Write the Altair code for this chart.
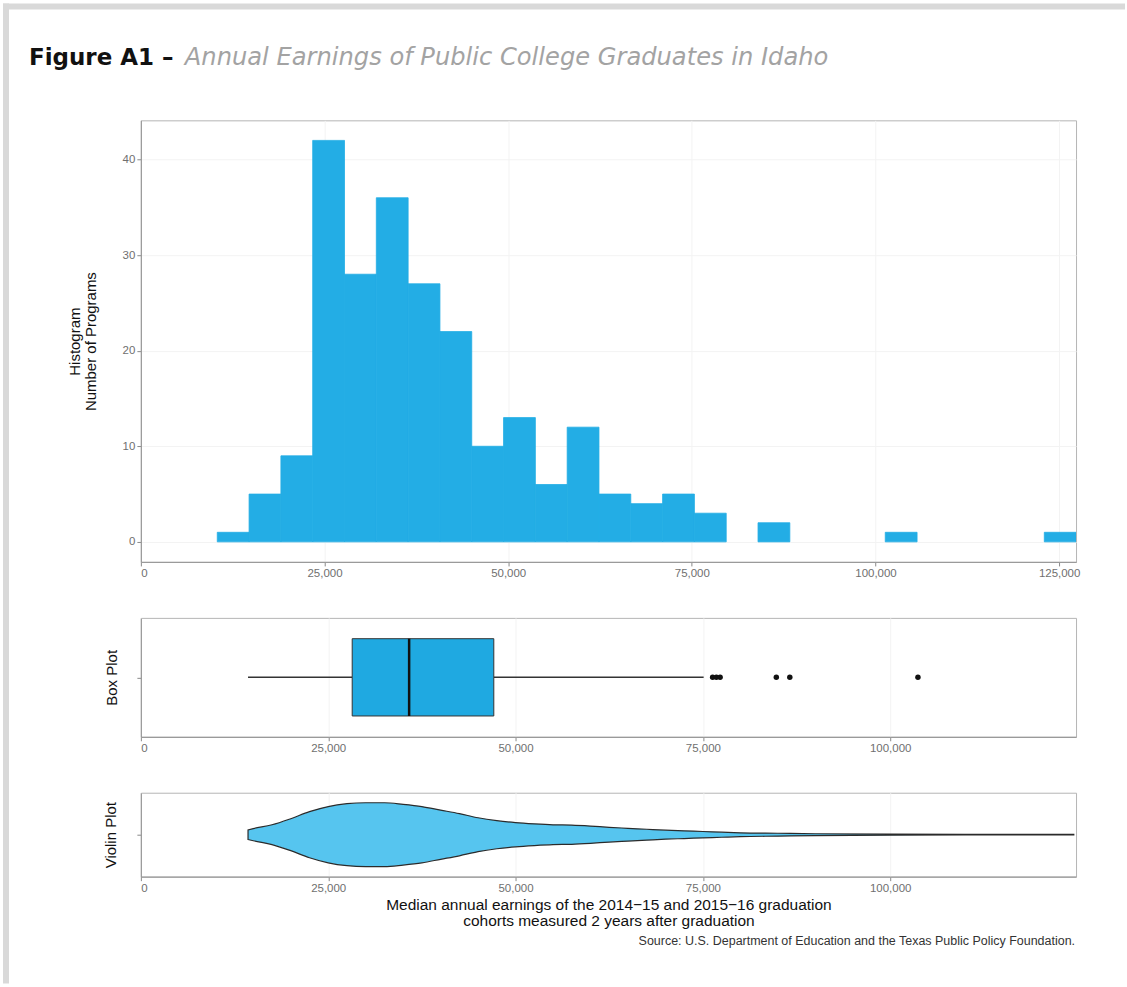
import altair as alt
import pandas as pd

# ---------------- data ----------------
# Histogram: left edge of each non-empty bin (dollars) and its count
BIN_WIDTH = 4330
bin_starts = [10400, 14730, 19060, 23390, 27720, 32050, 36380, 40710, 45040,
              49370, 53700, 58030, 62360, 66690, 71020, 75350, 84010, 101330, 122980]
bin_counts = [1, 5, 9, 42, 28, 36, 27, 22, 10,
              13, 6, 12, 5, 4, 5, 3, 2, 1, 1]

# Box plot summary
box_stat_names = ["whisker_low", "q1", "median", "q3", "whisker_high"]
box_stat_values = [14300, 28200, 35800, 47100, 75100]
outliers = [76300, 76800, 77300, 84800, 86600, 103700]

# Violin: earnings sample points and relative half-width (density, max = 1)
violin_x = [14300, 15000, 17500, 20000, 22500, 25000, 27500, 30000, 32500, 35000,
            37500, 40000, 42500, 45000, 47500, 50000, 52500, 55000, 57500, 60000,
            62500, 65000, 67500, 70000, 72500, 75000, 77500, 80000, 85000, 90000,
            100000, 110000, 124500]
violin_d = [0.15, 0.19, 0.31, 0.50, 0.72, 0.88, 0.97, 1.00, 1.00, 0.95,
            0.88, 0.77, 0.66, 0.53, 0.44, 0.38, 0.34, 0.31, 0.30, 0.27,
            0.23, 0.20, 0.17, 0.14, 0.12, 0.10, 0.08, 0.06, 0.045, 0.03,
            0.015, 0.01, 0.01]

hist_ticks = [0, 25000, 50000, 75000, 100000, 125000]
lower_ticks = [0, 25000, 50000, 75000, 100000]
hist_y_ticks = [0, 10, 20, 30, 40]

TITLE_BOLD = "Figure A1 \u2013"
TITLE_ITALIC = "Annual Earnings of Public College Graduates in Idaho"
X_TITLE = ["Median annual earnings of the 2014\u221215 and 2015\u221216 graduation",
           "cohorts measured 2 years after graduation"]
SOURCE = "Source: U.S. Department of Education and the Texas Public Policy Foundation."

# ---------------- styling ----------------
W = 936
FONT = "Liberation Sans"
HIST_BLUE = "#23ADE5"
BOX_BLUE = "#1FA9E1"
VIOLIN_BLUE = "#56C5EF"
BORDER = "#d9d9d9"

one = pd.DataFrame({"k": [0]})

# ---------------- header (title + page border) ----------------
hb = alt.Chart(one)
top_border = hb.mark_rule(color=BORDER, strokeWidth=6, strokeCap="square").encode(
    x=alt.value(-135), x2=alt.value(982), y=alt.value(3), y2=alt.value(3))
left_border = hb.mark_rule(color=BORDER, strokeWidth=6, strokeCap="square").encode(
    x=alt.value(-135), x2=alt.value(-135), y=alt.value(3), y2=alt.value(978))
t_bold = hb.mark_text(text=TITLE_BOLD, font="DejaVu Sans", fontWeight="bold", fontSize=23,
                      align="left", baseline="alphabetic", color="#111111").encode(
    x=alt.value(-112), y=alt.value(62))
t_ital = hb.mark_text(text=TITLE_ITALIC, font="DejaVu Sans", fontStyle="italic",
                      fontSize=24.2, align="left", baseline="alphabetic",
                      color="#a3a3a3").encode(
    x=alt.value(44), y=alt.value(62))
header = alt.layer(top_border, left_border, t_bold, t_ital).properties(
    width=W, height=61, view=alt.ViewBackground(stroke="transparent"))

# ---------------- histogram ----------------
hist_df = pd.DataFrame({"start": bin_starts, "count": bin_counts})
hist_df["end"] = hist_df["start"] + BIN_WIDTH

hist = alt.Chart(hist_df).mark_rect(color=HIST_BLUE, stroke=HIST_BLUE, strokeWidth=0.8,
                                    clip=True).encode(
    x=alt.X("start:Q", scale=alt.Scale(domain=[0, 127300], nice=False, zero=False),
            axis=alt.Axis(values=hist_ticks, format=",d", title=None)),
    x2="end:Q",
    y=alt.Y("count:Q", scale=alt.Scale(domain=[-2.1, 44.1], nice=False),
            axis=alt.Axis(values=hist_y_ticks, title=["Histogram", "Number of Programs"],
                          titlePadding=24, titleLineHeight=16)),
    y2=alt.datum(0),
).properties(width=W, height=442)

# ---------------- box plot ----------------
stats = dict(zip(box_stat_names, box_stat_values))
box_df = pd.DataFrame([stats])
out_df = pd.DataFrame({"value": outliers})
xs_lower = alt.Scale(domain=[0, 124800], nice=False, zero=False)
ys_box = alt.Scale(domain=[-1, 1], nice=False)
lower_axis = alt.Axis(values=lower_ticks, format=",d", title=None)

bb = alt.Chart(box_df)
whisk_lo = bb.mark_rule(color="#333333", strokeWidth=1.5).encode(
    x=alt.X("whisker_low:Q", scale=xs_lower, axis=lower_axis), x2="q1:Q",
    y=alt.YDatum(0, type="quantitative", scale=ys_box,
                 axis=alt.Axis(values=[0], labels=False, grid=False, title="Box Plot",
                               titlePadding=17)))
whisk_hi = bb.mark_rule(color="#333333", strokeWidth=1.5).encode(
    x="q3:Q", x2="whisker_high:Q", y=alt.datum(0))
box_rect = bb.mark_rect(fill=BOX_BLUE, stroke="#333333", strokeWidth=1).encode(
    x="q1:Q", x2="q3:Q", y=alt.datum(-0.65), y2=alt.datum(0.65))
med = bb.mark_rule(color="#111111", strokeWidth=2.5).encode(
    x="median:Q", y=alt.datum(-0.65), y2=alt.datum(0.65))
outl = alt.Chart(out_df).mark_circle(color="#111111", size=30, opacity=1).encode(
    x="value:Q", y=alt.datum(0))
box = alt.layer(whisk_lo, whisk_hi, box_rect, med, outl).properties(width=W, height=119)

# ---------------- violin ----------------
vio_df = pd.DataFrame({"x": violin_x, "d": violin_d})
vio_df["neg"] = -vio_df["d"]
vio_area = alt.Chart(vio_df).mark_area(
    orient="vertical", interpolate="monotone", fill=VIOLIN_BLUE,
    stroke="#2b2b2b", strokeWidth=1.2, fillOpacity=1).encode(
    x=alt.X("x:Q", scale=xs_lower,
            axis=alt.Axis(values=lower_ticks, format=",d", title=X_TITLE,
                          titleFontSize=15.5, titlePadding=3, titleLineHeight=16)),
    y=alt.Y("neg:Q", scale=alt.Scale(domain=[-1.3125, 1.3125], nice=False),
            axis=alt.Axis(values=[0], labels=False, grid=False, title="Violin Plot",
                          titlePadding=18)),
    y2="d:Q",
)
source = alt.Chart(one).mark_text(text=SOURCE, font=FONT, fontSize=12.5, align="right",
                                  baseline="middle", color="#333333").encode(
    x=alt.value(935), y=alt.value(148))
violin = alt.layer(vio_area, source).properties(width=W, height=84)

chart = alt.vconcat(header, hist, box, violin, spacing=56, bounds="flush").properties(
    padding={"left": 1, "top": 1, "right": 0, "bottom": 0},
    background="white",
).configure_view(
    stroke="#b5b5b5", strokeWidth=1
).configure_axis(
    labelFont=FONT, labelFontSize=11.5, labelColor="#6f6f6f",
    titleFont=FONT, titleFontSize=15, titleFontWeight="normal", titleColor="#111111",
    tickColor="#8a8a8a", tickSize=4, domainColor="#9a9a9a", domainWidth=1.2,
    gridColor="#f3f3f3", gridWidth=1,
)

chart.save("out.html", embed_options={"renderer": "svg", "actions": False})
